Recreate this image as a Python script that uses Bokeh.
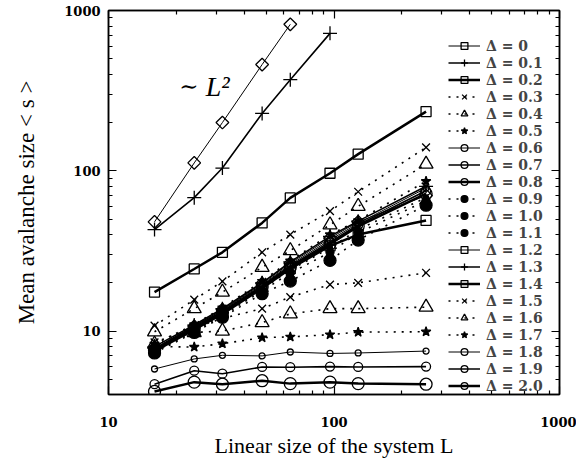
import math
from bokeh.plotting import figure
from bokeh.models import (Range1d, FixedTicker, LogAxis, Legend, LegendItem,
                          Label, NumeralTickFormatter)
from bokeh.embed import file_html
from bokeh.resources import INLINE

# ---- data ----
L = [16, 24, 32, 48, 64, 96, 128, 256]

s_00 = [48, 112, 200, 460, 820]
s_01 = [43, 68, 104, 228, 370, 720]
s_02 = [17.5, 24.4, 31, 47.3, 67.7, 96.5, 127, 234]
s_03 = [10.8, 15.7, 20.4, 31, 40, 56, 74, 140]
s_04 = [9.9, 13.8, 17.5, 25, 31.8, 46, 60, 110]
s_05 = [8.3, 11.0, 14.0, 20.5, 27.5, 40, 49, 86]
s_06 = [7.8, 10.8, 13.5, 19.5, 26, 37, 47, 78]
s_07 = [7.7, 10.6, 13.3, 19.2, 25.5, 36, 46, 75]
s_08 = [7.6, 10.4, 13.0, 18.8, 25, 35, 45, 72]
s_09 = [7.5, 10.2, 12.8, 18.3, 24, 33, 43, 68]
s_10 = [7.4, 10.0, 12.5, 17.8, 23, 31, 41, 65]
s_11 = [7.3, 9.8, 12.2, 17.1, 20.5, 27.6, 37, 61]
s_12 = [7.8, 10.7, 13.6, 19.8, 26.5, 38, 48, 70]
s_13 = [8.0, 10.9, 13.8, 20, 27, 39, 48.5, 80]
s_14 = [7.5, 10.2, 12.8, 18.5, 24.5, 34, 40, 49]
s_15 = [8.5, 10.5, 12.0, 13.8, 16.3, 19.5, 20, 23.1]
s_16 = [8.3, 9.8, 10.0, 11.3, 12.8, 13.8, 13.8, 14.1]
s_17 = [8.0, 7.95, 8.34, 9.1, 9.2, 9.5, 9.85, 9.9]
s_18 = [5.8, 6.7, 7.06, 7.0, 7.4, 7.25, 7.3, 7.5]
s_19 = [4.66, 5.66, 5.42, 5.97, 5.95, 6.0, 5.97, 6.0]
s_20 = [4.2, 4.8, 4.66, 4.9, 4.7, 4.8, 4.7, 4.66]

labels = ["Δ = 0", "Δ = 0.1", "Δ = 0.2", "Δ = 0.3", "Δ = 0.4", "Δ = 0.5",
          "Δ = 0.6", "Δ = 0.7", "Δ = 0.8", "Δ = 0.9", "Δ = 1.0", "Δ = 1.1",
          "Δ = 1.2", "Δ = 1.3", "Δ = 1.4", "Δ = 1.5", "Δ = 1.6", "Δ = 1.7",
          "Δ = 1.8", "Δ = 1.9", "Δ = 2.0"]
series = [s_00, s_01, s_02, s_03, s_04, s_05, s_06, s_07, s_08, s_09, s_10,
          s_11, s_12, s_13, s_14, s_15, s_16, s_17, s_18, s_19, s_20]

x_major = [10, 100, 1000]
x_minor = [20, 30, 40, 50, 60, 70, 80, 90, 200, 300, 400, 500, 600, 700, 800, 900]
y_major = [10, 100, 1000]
y_minor = [4, 5, 6, 7, 8, 9, 20, 30, 40, 50, 60, 70, 80, 90,
           200, 300, 400, 500, 600, 700, 800, 900]

x_title = "Linear size of the system L"
y_title = "Mean avalanche size < s >"

# ---- styles: (marker, size, filled, angle, line_width, dash) ----
DOT = "2 6"
styles = [
    ("square", 9, False, math.pi / 4, 1.0, "solid"),
    ("cross", 14, False, 0, 1.6, "solid"),
    ("square", 10, False, 0, 2.5, "solid"),
    ("x", 11, False, 0, 1.6, DOT),
    ("triangle", 14, False, 0, 1.6, DOT),
    ("star", 10, True, 0, 1.6, DOT),
    ("circle", 6, False, 0, 1.0, "solid"),
    ("circle", 9, False, 0, 1.6, "solid"),
    ("circle", 12, False, 0, 2.5, "solid"),
    ("circle", 5, True, 0, 1.6, DOT),
    ("circle", 8, True, 0, 1.6, DOT),
    ("circle", 12, True, 0, 1.6, DOT),
    ("square", 9, False, math.pi / 4, 1.0, "solid"),
    ("cross", 14, False, 0, 1.6, "solid"),
    ("square", 10, False, 0, 2.5, "solid"),
    ("x", 11, False, 0, 1.6, DOT),
    ("triangle", 14, False, 0, 1.6, DOT),
    ("star", 10, True, 0, 1.6, DOT),
    ("circle", 6, False, 0, 1.0, "solid"),
    ("circle", 9, False, 0, 1.6, "solid"),
    ("circle", 12, False, 0, 2.5, "solid"),
]

p = figure(frame_width=451, frame_height=384,
           x_axis_type="log", y_axis_type="log",
           x_range=Range1d(10, 1000), y_range=Range1d(4.02, 1000),
           output_backend="svg", toolbar_location=None,
           min_border_left=108, min_border_top=10,
           min_border_right=17, min_border_bottom=58)
p.background_fill_color = "white"
p.border_fill_color = "white"
p.outline_line_color = "black"
p.outline_line_width = 1.5
p.xgrid.visible = False
p.ygrid.visible = False

bottom_ax = p.below[0]
left_ax = p.left[0]

items = []
for lab, ys, st in zip(labels, series, styles):
    mk, sz, filled, ang, lw, dash = st
    xs = L[:len(ys)]
    r_line = p.line(xs, ys, line_color="black", line_width=lw, line_dash=dash)
    r_pt = p.scatter(xs, ys, marker=mk, size=sz, angle=ang,
                     line_color="black", line_width=1.3,
                     fill_color="black" if filled else "white",
                     fill_alpha=1.0 if filled else 0.0)
    items.append(LegendItem(label=lab, renderers=[r_line, r_pt]))

legend = Legend(items=items, location=(338, -2))
legend.background_fill_alpha = 0
legend.border_line_alpha = 0
legend.label_text_font = "DejaVu Serif"
legend.label_text_font_style = "bold"
legend.label_text_font_size = "14px"
legend.label_height = 17
legend.glyph_height = 17
legend.glyph_width = 32
legend.spacing = 0
legend.padding = 2
legend.margin = 0
legend.label_standoff = 6
p.add_layout(legend)


def style_axis(ax, ticks, minor, show_labels):
    ax.ticker = FixedTicker(ticks=ticks, minor_ticks=minor)
    ax.major_tick_in = 8
    ax.major_tick_out = 0
    ax.minor_tick_in = 4
    ax.minor_tick_out = 0
    ax.axis_line_color = "black"
    ax.axis_line_width = 1.5
    ax.major_tick_line_width = 1.2
    ax.minor_tick_line_width = 1.2
    if show_labels:
        ax.formatter = NumeralTickFormatter(format="0")
        ax.major_label_text_font = "DejaVu Serif"
        ax.major_label_text_font_style = "bold"
        ax.major_label_text_font_size = "13px"
        ax.major_label_text_color = "black"
    else:
        ax.major_label_text_font_size = "1px"
        ax.major_label_text_alpha = 0
        ax.major_label_standoff = 0


style_axis(bottom_ax, x_major, x_minor, True)
style_axis(left_ax, y_major, y_minor, True)
bottom_ax.major_label_standoff = 22
left_ax.major_label_standoff = 8

top_ax = LogAxis()
style_axis(top_ax, x_major, x_minor, False)
p.add_layout(top_ax, "above")
right_ax = LogAxis()
style_axis(right_ax, y_major, y_minor, False)
p.add_layout(right_ax, "right")

bottom_ax.axis_label = x_title
left_ax.axis_label = y_title
for ax in (bottom_ax, left_ax):
    ax.axis_label_text_font = "Liberation Serif"
    ax.axis_label_text_font_style = "normal"
    ax.axis_label_text_color = "black"
bottom_ax.axis_label_text_font_size = "22px"
left_ax.axis_label_text_font_size = "23px"
bottom_ax.axis_label_standoff = 3
left_ax.axis_label_standoff = 22

# "~ L^2" annotation
p.add_layout(Label(x=20.6, y=336, text="∼", text_font="DejaVu Serif",
                   text_font_size="23px", text_color="black",
                   text_baseline="alphabetic"))
p.add_layout(Label(x=27.0, y=336, text="L²", text_font="Liberation Serif",
                   text_font_style="italic", text_font_size="28px",
                   text_color="black", text_baseline="alphabetic"))

open("out.html", "w").write(file_html(p, INLINE))
